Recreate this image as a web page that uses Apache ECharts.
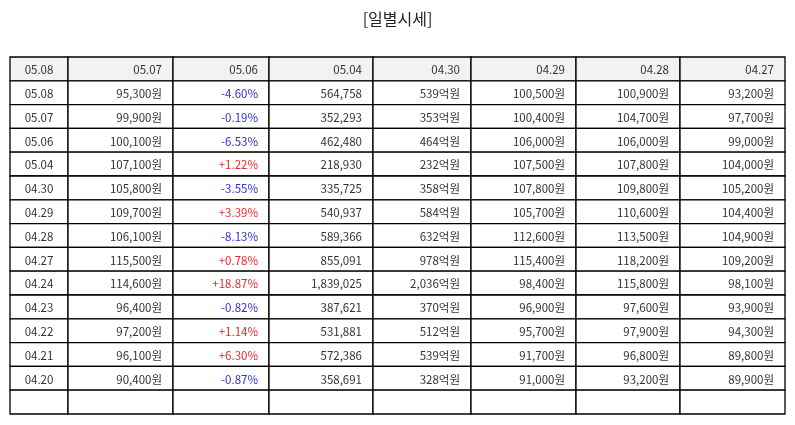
<!DOCTYPE html>
<html>
<head>
<meta charset="utf-8">
<script src="https://cdn.jsdelivr.net/npm/echarts@6/dist/echarts.min.js"></script>
<style>
  html, body { margin: 0; padding: 0; background: #fff; }
  #chart { width: 795px; height: 425px; }
</style>
</head>
<body>
<div id="chart"></div>
<script>
// 헤더 (열 제목)
var headers = ['05.08', '05.07', '05.06', '05.04', '04.30', '04.29', '04.28', '04.27'];
// 각 행의 값
var dates   = ['05.08', '05.07', '05.06', '05.04', '04.30', '04.29', '04.28', '04.27', '04.24', '04.23', '04.22', '04.21', '04.20', ''];
var closes  = ['95,300원', '99,900원', '100,100원', '107,100원', '105,800원', '109,700원', '106,100원', '115,500원', '114,600원', '96,400원', '97,200원', '96,100원', '90,400원', ''];
var changes = ['-4.60%', '-0.19%', '-6.53%', '+1.22%', '-3.55%', '+3.39%', '-8.13%', '+0.78%', '+18.87%', '-0.82%', '+1.14%', '+6.30%', '-0.87%', ''];
var volumes = ['564,758', '352,293', '462,480', '218,930', '335,725', '540,937', '589,366', '855,091', '1,839,025', '387,621', '531,881', '572,386', '358,691', ''];
var amounts = ['539억원', '353억원', '464억원', '232억원', '358억원', '584억원', '632억원', '978억원', '2,036억원', '370억원', '512억원', '539억원', '328억원', ''];
var opens   = ['100,500원', '100,400원', '106,000원', '107,500원', '107,800원', '105,700원', '112,600원', '115,400원', '98,400원', '96,900원', '95,700원', '91,700원', '91,000원', ''];
var highs   = ['100,900원', '104,700원', '106,000원', '107,800원', '109,800원', '110,600원', '113,500원', '118,200원', '115,800원', '97,600원', '97,900원', '96,800원', '93,200원', ''];
var lows    = ['93,200원', '97,700원', '99,000원', '104,000원', '105,200원', '104,400원', '104,900원', '109,200원', '98,100원', '93,900원', '94,300원', '89,800원', '89,900원', ''];

// 열 너비 (픽셀 기준 레이아웃)
var colWidths = [58, 105, 96, 104, 98, 105, 104, 105];

var table = {
	columns : [dates, closes, changes, volumes, amounts, opens, highs, lows],

	init : function(){
		var myChart = echarts.init(document.getElementById('chart'));
		myChart.setOption(table.options());
	},

	build_data : function(){
		var rows = ['h'].concat(dates.map(function(d, i){ return 'r' + i; }));
		var data = [];
		for (var c = 0; c < headers.length; c++) {
			data.push([c, 'h', headers[c]]);
			for (var r = 0; r < dates.length; r++) {
				data.push([c, 'r' + r, table.columns[c][r]]);
			}
		}
		return { rows: rows, data: data };
	},

	options : function(){
		var built = table.build_data();
		var edges = [0];
		colWidths.forEach(function(w){ edges.push(edges[edges.length - 1] + w); });

		return {
			animation: false,
			title : {
				text: '[일별시세]',
				left: 'center',
				top: 6,
				textStyle: {
					color: '#222',
					fontSize: 16,
					fontWeight: 'normal',
					fontFamily: 'Noto Sans CJK KR'
				}
			},
			grid: { left: 10, right: 10, top: 57, bottom: 11 },
			xAxis: { type: 'value', min: 0, max: edges[edges.length - 1], show: false },
			yAxis: { type: 'category', data: built.rows, inverse: true, show: false },
			series: [{
				type: 'custom',
				data: built.data,
				renderItem: function(params, api){
					var col = api.value(0);
					var rowIdx = api.value(1);
					var text = built.data[params.dataIndex][2];
					var left = api.coord([edges[col], rowIdx]);
					var right = api.coord([edges[col + 1], rowIdx]);
					var h = api.size([0, 1])[1];
					var x = left[0], y = left[1] - h / 2, w = right[0] - left[0];
					var isHeader = rowIdx === 0;
					var color = '#333';
					if (col === 2 && !isHeader && text) {
						color = text.charAt(0) === '+' ? '#e8282d' : '#2f2fd0';
					}
					return {
						type: 'group',
						children: [{
							type: 'rect',
							shape: { x: x, y: y, width: w, height: h },
							style: { fill: isHeader ? '#f2f2f2' : '#fff', stroke: '#000', lineWidth: 1.3 }
						}, {
							type: 'text',
							style: {
								text: text,
								x: col === 0 ? x + w / 2 : x + w - 11,
								y: y + h / 2 + 1,
								align: col === 0 ? 'center' : 'right',
								verticalAlign: 'middle',
								fill: color,
								font: '11.5px "Noto Sans CJK KR"'
							}
						}]
					};
				}
			}]
		};
	}
};

table.init();
</script>
</body>
</html>
